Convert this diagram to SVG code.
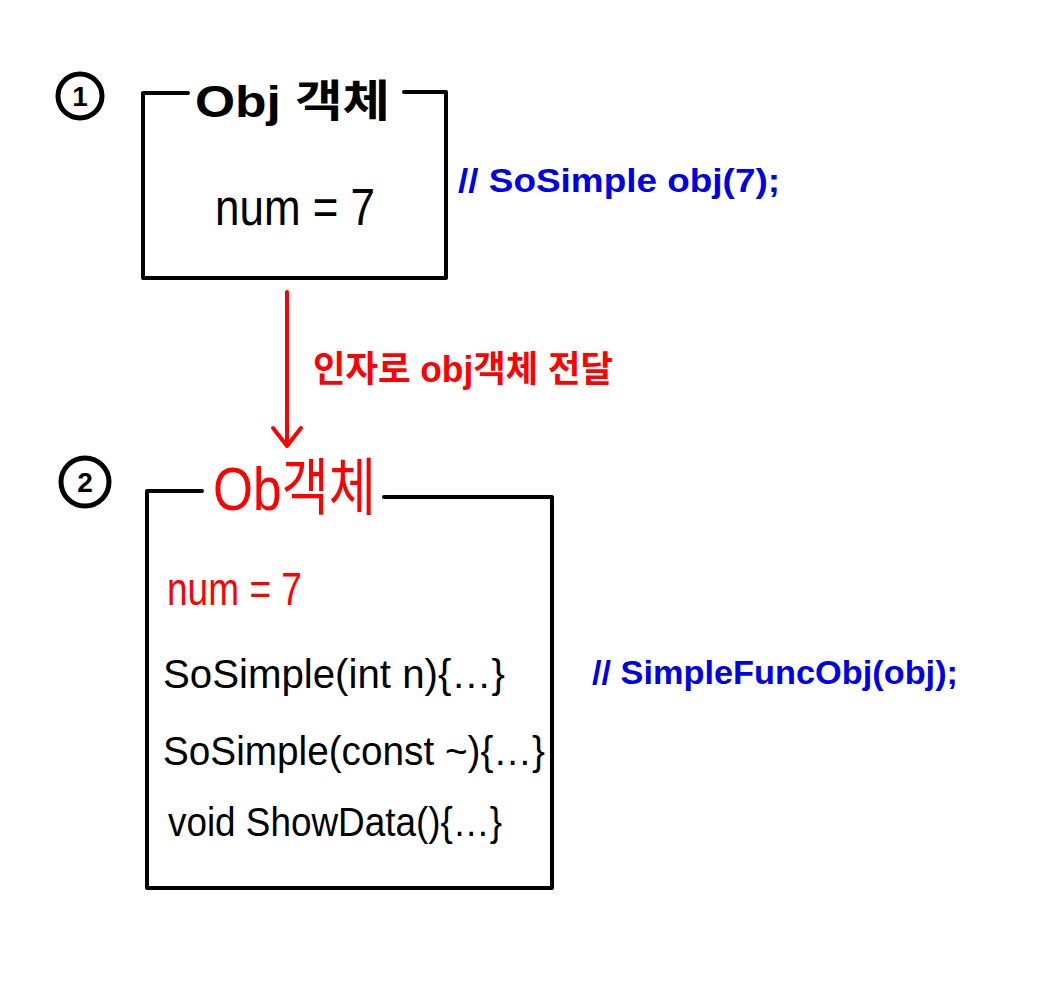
<svg xmlns="http://www.w3.org/2000/svg" width="1037" height="1000" viewBox="0 0 1037 1000">
<style>
.box{fill:none;stroke:#000;stroke-width:4;stroke-linecap:round;stroke-linejoin:round}
.blk{font-family:"Liberation Sans","Noto Sans CJK KR",sans-serif;fill:#000}
.red{font-family:"Liberation Sans","Noto Sans CJK KR",sans-serif;fill:#f00}
.blue{font-family:"Liberation Sans","Noto Sans CJK KR",sans-serif;fill:#0000e6;font-weight:bold}
.num{fill:none;stroke:#000;stroke-width:5}
.conn{fill:none;stroke:#f00;stroke-width:4;stroke-linecap:round;stroke-linejoin:round}
</style>
<rect width="1037" height="1000" fill="#fff"/>
<g id="label1">
<circle class="num" cx="80" cy="96" r="22"/>
<text class="blk" x="80" y="106" font-size="28" text-anchor="middle" font-weight="bold">1</text>
</g>
<g id="node1">
<path class="box" d="M188,93 L143,93 L143,278 L446,278 L446,92 L404,92"/>
<text class="blk" x="195" y="117" font-size="44" font-weight="bold" textLength="195" lengthAdjust="spacingAndGlyphs">Obj 객체</text>
<text class="blk" x="215" y="225" font-size="52" textLength="160" lengthAdjust="spacingAndGlyphs">num = 7</text>
</g>
<g id="comment1">
<text class="blue" x="458" y="192" font-size="34" textLength="322" lengthAdjust="spacingAndGlyphs">// SoSimple obj(7);</text>
</g>
<g id="connectors">
<line class="conn" x1="287" y1="292" x2="287" y2="445"/>
<path class="conn" d="M273,428 L287,446 L301,428"/>
<text class="red" x="313" y="382" font-size="36" font-weight="bold" textLength="300" lengthAdjust="spacingAndGlyphs">인자로 obj객체 전달</text>
</g>
<g id="label2">
<circle class="num" cx="85" cy="482" r="24"/>
<text class="blk" x="85" y="492" font-size="28" text-anchor="middle" font-weight="bold">2</text>
</g>
<g id="node2">
<path class="box" d="M202,491 L147,491 L147,888 L552,888 L552,497 L384,497"/>
<text class="red" x="213" y="510" font-size="62" textLength="163" lengthAdjust="spacingAndGlyphs">Ob객체</text>
<text class="red" x="167" y="605" font-size="46" textLength="135" lengthAdjust="spacingAndGlyphs">num = 7</text>
<text class="blk" x="163" y="688" font-size="40" textLength="342" lengthAdjust="spacingAndGlyphs">SoSimple(int n){…}</text>
<text class="blk" x="163" y="765" font-size="40" textLength="382" lengthAdjust="spacingAndGlyphs">SoSimple(const ~){…}</text>
<text class="blk" x="168" y="836" font-size="40" textLength="334" lengthAdjust="spacingAndGlyphs">void ShowData(){…}</text>
</g>
<g id="comment2">
<text class="blue" x="592" y="684" font-size="34" textLength="366" lengthAdjust="spacingAndGlyphs">// SimpleFuncObj(obj);</text>
</g>
</svg>
